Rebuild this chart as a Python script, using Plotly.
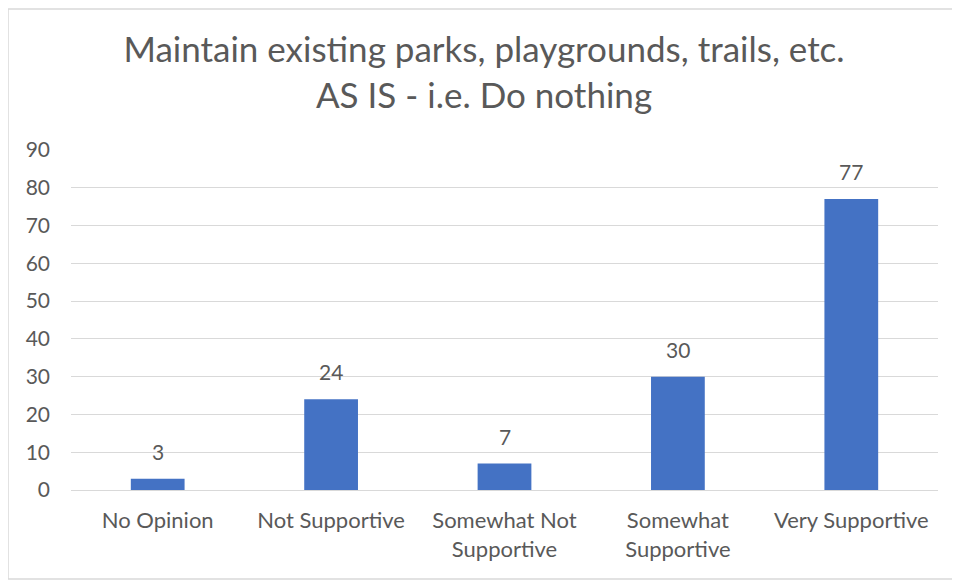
import plotly.graph_objects as go

categories = ["No Opinion", "Not Supportive", "Somewhat Not<br>Supportive",
              "Somewhat<br>Supportive", "Very Supportive"]
counts = [3, 24, 7, 30, 77]
y_ticks = [0, 10, 20, 30, 40, 50, 60, 70, 80, 90]

TEXT = "#595959"
FONT = "Lato, Open Sans, sans-serif"

# page body has an 8px margin, so the figure is sized to fit the window
W, H = 952, 573

fig = go.Figure(go.Bar(
    x=categories, y=counts,
    marker=dict(color="#4472C4", line=dict(width=0)),
))

# value labels sit a little higher above the bars than plotly's own bar text
for cat, val in zip(categories, counts):
    fig.add_annotation(x=cat, y=val, text=str(val), showarrow=False,
                       yanchor="bottom", yshift=13,
                       font=dict(size=21, color=TEXT, family=FONT))

fig.update_layout(
    width=W, height=H,
    margin=dict(l=63, r=22, t=142, b=91),
    paper_bgcolor="white", plot_bgcolor="white",
    font=dict(family=FONT, color=TEXT, size=21),
    title=dict(
        text="Maintain existing parks, playgrounds, trails, etc.<br>AS IS - i.e. Do nothing",
        x=0.5, xref="container", xanchor="center",
        y=0.905, yref="container", yanchor="top",
        font=dict(size=35, color=TEXT, family=FONT),
    ),
    bargap=0.69,
    showlegend=False,
    shapes=[dict(type="rect", xref="paper", yref="paper",
                 x0=-63 / 867, x1=(867 + 17) / 867, y0=-89 / 340, y1=(340 + 141) / 340,
                 line=dict(color="#D9D9D9", width=1.5), layer="below")],
)
fig.update_xaxes(showgrid=False, showline=False, ticks="", tickfont=dict(size=22),
                 ticklabelstandoff=15)
fig.update_yaxes(range=[0, 90], tickvals=y_ticks, showgrid=True, gridcolor="#D9D9D9",
                 gridwidth=1, zeroline=True, zerolinecolor="#D9D9D9", zerolinewidth=1,
                 showline=False, ticks="", tickfont=dict(size=21), ticklabelstandoff=20)

fig.write_html("out.html")
